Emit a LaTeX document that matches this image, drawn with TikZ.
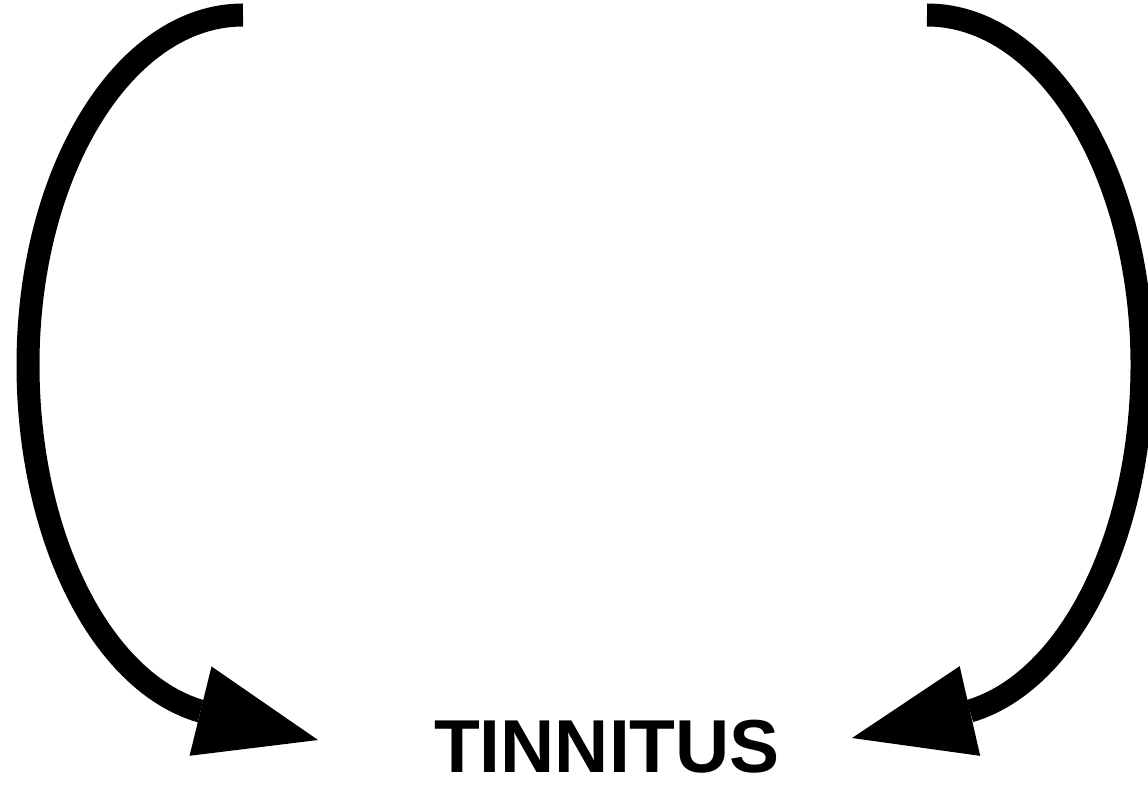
\documentclass[tikz,border=0pt]{standalone}
\usepackage{fontspec}
\setmainfont{Liberation Sans}
\usepackage{tikz}
\usetikzlibrary{arrows.meta,positioning,calc}

\begin{document}
\begin{tikzpicture}[
    x=0.02cm, y=-0.02cm,
    loop/.style={draw=black, line width=0.46cm,
                 -{Triangle[length=2.42cm, width=1.84cm, line width=0pt]}},
    label/.style={inner sep=0pt, anchor=base,
                  font=\fontsize{42.7pt}{50pt}\selectfont\bfseries}
  ]
  \useasboundingbox (0,0) rectangle (1148,786);

  % label
  \node[label] (tinnitus) at (607,772) {TINNITUS};

  % loop ends
  \coordinate (ltop) at (243,15);
  \coordinate (lside) at (28,365);
  \coordinate (lbase) at (200,711);
  \coordinate (ltip) at (318,740);
  \coordinate (rtop) at (927,15);
  \coordinate (rside) at (1142,365);
  \coordinate (rbase) at (970,711);
  \coordinate (rtip) at (852,738);

  % left loop
  \draw[loop] (ltop) .. controls (124,15) and (28,172) .. (lside)
    .. controls (28,535) and (100,681) .. (lbase) -- (ltip);

  % right loop
  \draw[loop] (rtop) .. controls (1046,15) and (1142,172) .. (rside)
    .. controls (1142,535) and (1070,681) .. (rbase) -- (rtip);
\end{tikzpicture}
\end{document}
